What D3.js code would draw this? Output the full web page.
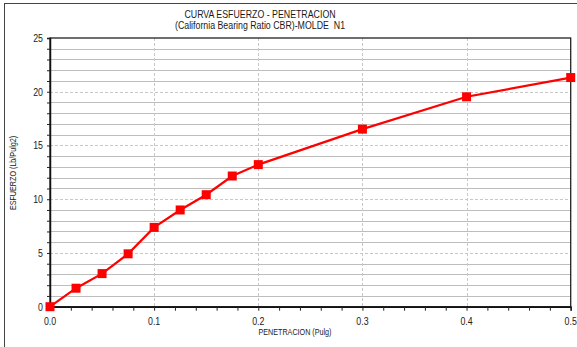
<!DOCTYPE html>
<html>
<head>
<meta charset="utf-8">
<script src="https://cdn.jsdelivr.net/npm/d3@7"></script>
<style>
  html, body { margin: 0; padding: 0; background: #fff; }
  svg { display: block; font-family: "Liberation Sans", Arial, sans-serif; }
</style>
</head>
<body>
<svg id="chart" width="577" height="347"></svg>
<script>
// Penetration (in) and stress (lb/in²) readings for the CBR test, mould N1
const penetracion = [0, 0.025, 0.05, 0.075, 0.1, 0.125, 0.15, 0.175, 0.2, 0.3, 0.4, 0.5];
const esfuerzo    = [0, 1.72, 3.08, 4.92, 7.38, 9.0, 10.42, 12.16, 13.22, 16.52, 19.53, 21.32];
const xTicks = [0, 0.1, 0.2, 0.3, 0.4, 0.5];
const yTicks = [0, 5, 10, 15, 20, 25];
const titleLines = ["CURVA ESFUERZO - PENETRACION", "(California Bearing Ratio CBR)-MOLDE  N1"];

const svg = d3.select("#chart");
const W = 577, H = 347;
const m = { left: 50, right: 570.7, top: 38, bottom: 306.7 };
const NARROW = 0.8; // horizontal squeeze giving a condensed face

const x = d3.scaleLinear().domain([0, 0.5]).range([m.left, m.right]);
const y = d3.scaleLinear().domain([0, 25]).range([m.bottom, m.top]);

// condensed text placed at (px, py)
function label(g, px, py, txt, size, anchor, rot) {
  return g.append("text")
    .attr("transform", `translate(${px},${py})${rot ? ` rotate(${rot})` : ""} scale(${NARROW},1)`)
    .attr("text-anchor", anchor).attr("font-size", size).attr("fill", "#1a1a1a")
    .style("white-space", "pre")
    .text(txt);
}

// outer frame
svg.append("rect").attr("x", 4.5).attr("y", 3.5).attr("width", W - 4).attr("height", H)
  .attr("fill", "none").attr("stroke", "#444").attr("stroke-width", 1);

// title
const tg = svg.append("g");
titleLines.forEach((t, i) => label(tg, 260, 18 + i * 11, t, 11, "middle"));

// horizontal grid: every unit solid, every 5 dashed
const yMinor = d3.range(1, 25).filter(v => v % 5 !== 0);
const yMajor = yTicks.filter(v => v > 0 && v < 25);
const grid = svg.append("g");
grid.selectAll("line.hm").data(yMinor).join("line")
  .attr("x1", m.left).attr("x2", m.right)
  .attr("y1", d => Math.round(y(d)) + 0.5).attr("y2", d => Math.round(y(d)) + 0.5)
  .attr("stroke", "#bdbdbd").attr("stroke-width", 1);
grid.selectAll("line.hM").data(yMajor).join("line")
  .attr("x1", m.left).attr("x2", m.right)
  .attr("y1", d => Math.round(y(d)) + 0.5).attr("y2", d => Math.round(y(d)) + 0.5)
  .attr("stroke", "#c8c8c8").attr("stroke-width", 1).attr("stroke-dasharray", "3,2");
grid.selectAll("line.v").data(xTicks.filter(v => v > 0 && v < 0.5)).join("line")
  .attr("x1", d => Math.round(x(d)) + 0.5).attr("x2", d => Math.round(x(d)) + 0.5)
  .attr("y1", m.top).attr("y2", m.bottom)
  .attr("stroke", "#c8c8c8").attr("stroke-width", 1).attr("stroke-dasharray", "3,2");

// plot frame
svg.append("rect").attr("x", m.left).attr("y", m.top)
  .attr("width", m.right - m.left).attr("height", m.bottom - m.top)
  .attr("fill", "none").attr("stroke", "#222").attr("stroke-width", 1.3);

// x axis
const xAxis = svg.append("g").attr("transform", `translate(0,${m.bottom})`)
  .call(d3.axisBottom(x).tickValues(d3.range(0, 0.5001, 0.02)).tickSize(4).tickFormat(""));
xAxis.select(".domain").attr("stroke", "#111").attr("stroke-width", 1.5);
xAxis.selectAll(".tick line").attr("stroke", "#222");
const xl = svg.append("g");
xTicks.forEach(d => label(xl, x(d), m.bottom + 18, d.toFixed(1), 11, "middle"));

// y axis
const yAxis = svg.append("g").attr("transform", `translate(${m.left},0)`)
  .call(d3.axisLeft(y).tickValues(d3.range(0, 26, 1)).tickSize(3).tickFormat(""));
yAxis.select(".domain").attr("stroke", "#111").attr("stroke-width", 1.5);
yAxis.selectAll(".tick line").attr("stroke", "#222");
const yl = svg.append("g");
yTicks.forEach(d => label(yl, m.left - 7, y(d) + 4, String(d), 11, "end"));

// axis titles
const at = svg.append("g");
label(at, 295, 335, "PENETRACION (Pulg)", 9, "middle");
label(at, 16, 173, "ESFUERZO (Lb/Pulg2)", 9, "middle", -90);

// curve and markers
const pts = penetracion.map((p, i) => [p, esfuerzo[i]]);
svg.append("path").datum(pts)
  .attr("d", d3.line().x(d => x(d[0])).y(d => y(d[1])))
  .attr("fill", "none").attr("stroke", "#ff0000").attr("stroke-width", 2.2);
const s = 9;
svg.append("g").selectAll("rect").data(pts).join("rect")
  .attr("x", d => x(d[0]) - s / 2).attr("y", d => y(d[1]) - s / 2)
  .attr("width", s).attr("height", s).attr("fill", "#ff0000");
</script>
</body>
</html>
